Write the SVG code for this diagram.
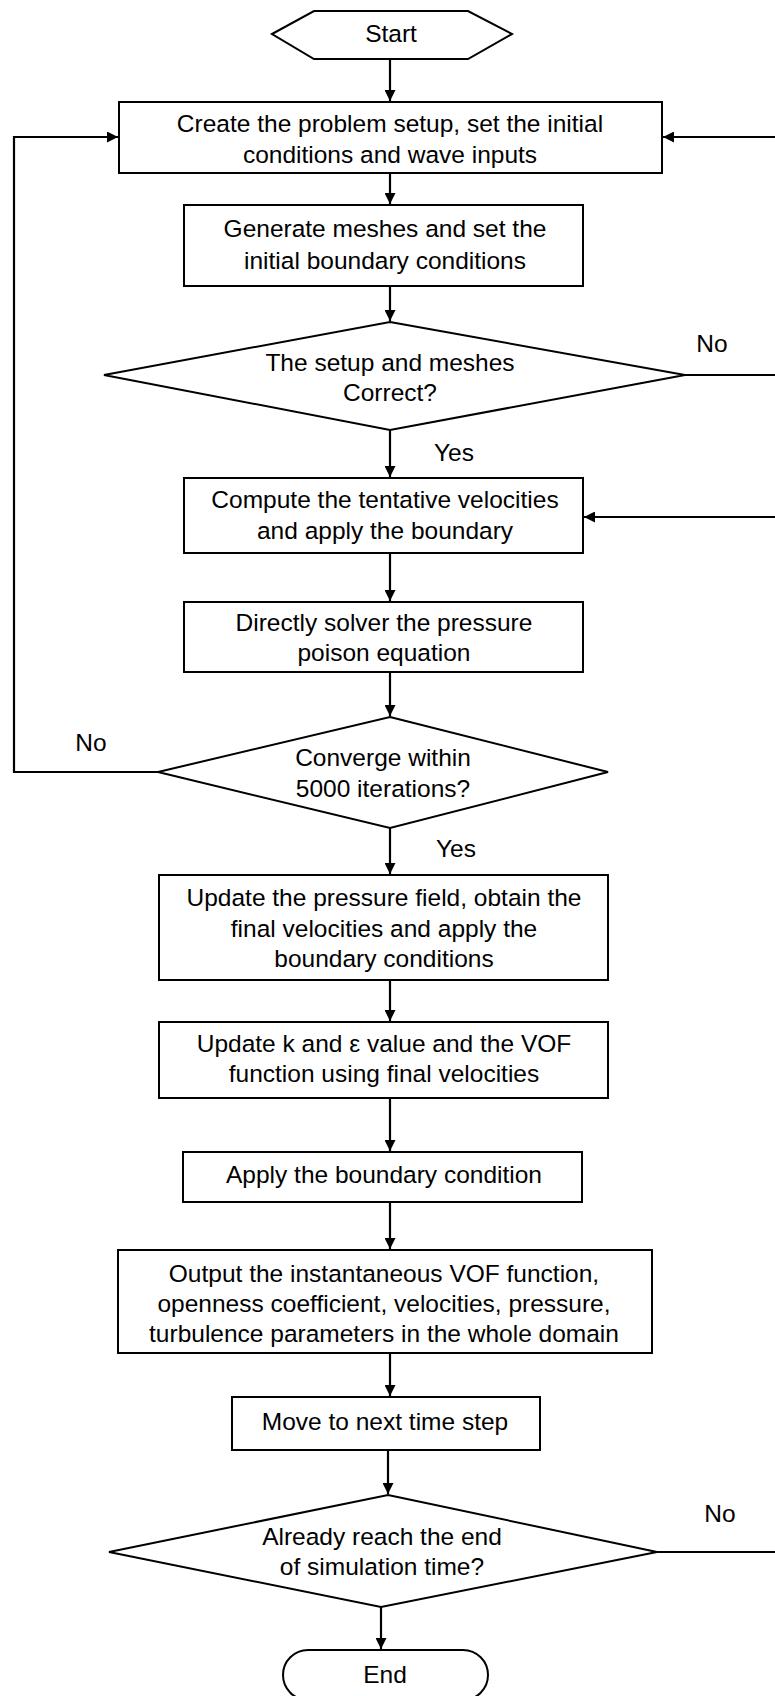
<svg xmlns="http://www.w3.org/2000/svg" width="775" height="1696" viewBox="0 0 775 1696">
<style>
.s{fill:#fff;stroke:#000;stroke-width:2}
.t{font-family:"Liberation Sans",Arial,sans-serif;font-size:24.5px;fill:#000;text-anchor:middle;dominant-baseline:central}
.c{fill:none;stroke:#000;stroke-width:2.2}
</style>
<defs>
<marker id="ah" viewBox="0 0 10 10" refX="10" refY="5" markerWidth="12" markerHeight="11" markerUnits="userSpaceOnUse" orient="auto">
<path d="M0,0 L10,5 L0,10 z" fill="#000"/>
</marker>
</defs>
<rect width="775" height="1696" fill="#fff"/>
<g id="connectors">
<line class="c" x1="390" y1="59" x2="390" y2="101" marker-end="url(#ah)"/>
<line class="c" x1="390" y1="173" x2="390" y2="204" marker-end="url(#ah)"/>
<line class="c" x1="390" y1="286" x2="390" y2="321" marker-end="url(#ah)"/>
<line class="c" x1="390" y1="430" x2="390" y2="477" marker-end="url(#ah)"/>
<line class="c" x1="390" y1="553" x2="390" y2="601" marker-end="url(#ah)"/>
<line class="c" x1="390" y1="672" x2="390" y2="716" marker-end="url(#ah)"/>
<line class="c" x1="390" y1="828" x2="390" y2="874" marker-end="url(#ah)"/>
<line class="c" x1="390" y1="980" x2="390" y2="1021" marker-end="url(#ah)"/>
<line class="c" x1="390" y1="1098" x2="390" y2="1151" marker-end="url(#ah)"/>
<line class="c" x1="390" y1="1202" x2="390" y2="1249" marker-end="url(#ah)"/>
<line class="c" x1="390" y1="1353" x2="390" y2="1396" marker-end="url(#ah)"/>
<line class="c" x1="388" y1="1450" x2="388" y2="1494" marker-end="url(#ah)"/>
<line class="c" x1="381" y1="1606" x2="381" y2="1649" marker-end="url(#ah)"/>
<path class="c" d="M158,772 H14 V137 H118" marker-end="url(#ah)"/>
<path class="c" d="M685,375 H785 V137 H663" marker-end="url(#ah)"/>
<path class="c" d="M657,1552 H785 V517 H584" marker-end="url(#ah)"/>
<text class="t" x="712" y="343">No</text>
<text class="t" x="454" y="452">Yes</text>
<text class="t" x="91" y="742">No</text>
<text class="t" x="456" y="848">Yes</text>
<text class="t" x="720" y="1513">No</text>
</g>
<g id="start">
<polygon class="s" points="272,34 314,11 468,11 512,34 468,59 314,59"/>
<text class="t" x="391" y="33">Start</text>
</g>
<g id="box1">
<rect class="s" x="119" y="102" width="543" height="71"/>
<text class="t" x="390" y="123">Create the problem setup, set the initial</text>
<text class="t" x="390" y="154">conditions and wave inputs</text>
</g>
<g id="box2">
<rect class="s" x="184" y="205" width="399" height="81"/>
<text class="t" x="385" y="228">Generate meshes and set the</text>
<text class="t" x="385" y="260">initial boundary conditions</text>
</g>
<g id="dec1">
<polygon class="s" points="390,322 685,375 390,430 104,375"/>
<text class="t" x="390" y="362">The setup and meshes</text>
<text class="t" x="390" y="392">Correct?</text>
</g>
<g id="box3">
<rect class="s" x="184" y="478" width="399" height="75"/>
<text class="t" x="385" y="499">Compute the tentative velocities</text>
<text class="t" x="385" y="530">and apply the boundary</text>
</g>
<g id="box4">
<rect class="s" x="184" y="602" width="399" height="70"/>
<text class="t" x="384" y="622">Directly solver the pressure</text>
<text class="t" x="384" y="652">poison equation</text>
</g>
<g id="dec2">
<polygon class="s" points="390,717 608,772 390,828 158,772"/>
<text class="t" x="383" y="757">Converge within</text>
<text class="t" x="383" y="788">5000 iterations?</text>
</g>
<g id="box5">
<rect class="s" x="159" y="875" width="449" height="105"/>
<text class="t" x="384" y="897">Update the pressure field, obtain the</text>
<text class="t" x="384" y="928">final velocities and apply the</text>
<text class="t" x="384" y="958">boundary conditions</text>
</g>
<g id="box6">
<rect class="s" x="159" y="1022" width="449" height="76"/>
<text class="t" x="384" y="1043">Update k and ε value and the VOF</text>
<text class="t" x="384" y="1073">function using final velocities</text>
</g>
<g id="box7">
<rect class="s" x="183" y="1152" width="399" height="50"/>
<text class="t" x="384" y="1174">Apply the boundary condition</text>
</g>
<g id="box8">
<rect class="s" x="118" y="1250" width="534" height="103"/>
<text class="t" x="384" y="1273">Output the instantaneous VOF function,</text>
<text class="t" x="384" y="1303">openness coefficient, velocities, pressure,</text>
<text class="t" x="384" y="1333">turbulence parameters in the whole domain</text>
</g>
<g id="box9">
<rect class="s" x="232" y="1397" width="308" height="53"/>
<text class="t" x="385" y="1421">Move to next time step</text>
</g>
<g id="dec3">
<polygon class="s" points="388,1495 657,1552 381,1607 109,1552"/>
<text class="t" x="382" y="1536">Already reach the end</text>
<text class="t" x="382" y="1566">of simulation time?</text>
</g>
<g id="end">
<rect class="s" x="283" y="1650" width="205" height="50" rx="25"/>
<text class="t" x="385" y="1674">End</text>
</g>
</svg>
